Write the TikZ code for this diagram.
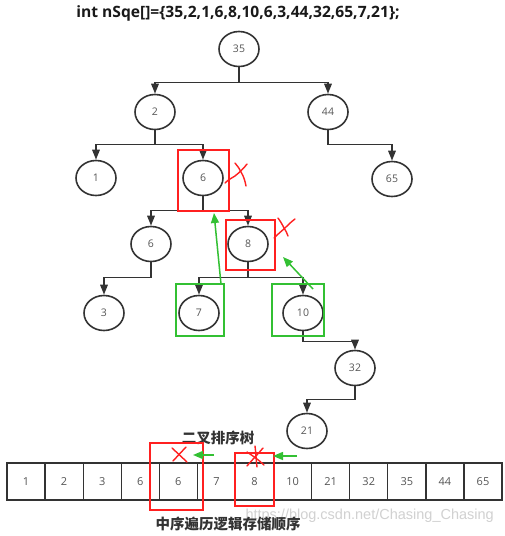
\documentclass[tikz,border=0pt]{standalone}
\usepackage{fontspec}
\setmainfont{Open Sans}
\newfontfamily\cjk{Noto Sans CJK SC}
\newfontfamily\wmfont{Liberation Sans}
\usetikzlibrary{arrows.meta,shapes.geometric}
\definecolor{ln}{HTML}{333333}
\definecolor{tx}{HTML}{555555}
\definecolor{rd}{HTML}{FF2020}
\definecolor{gn}{HTML}{33C033}
\begin{document}
\begin{tikzpicture}[x=1pt,y=-1pt,
  tn/.style={ellipse,draw=ln,line width=1.6pt,minimum width=40pt,minimum height=35pt,inner sep=0pt,font=\fontsize{10.5}{12}\selectfont,text=tx},
  edge/.style={draw=ln,line width=1.6pt,-{Triangle[width=7.5pt,length=10pt]}},
  cell/.style={rectangle,draw=ln,line width=1.3pt,minimum width=38.08pt,minimum height=37pt,inner sep=0pt,font=\fontsize{11}{13}\selectfont,text=tx},
  redbox/.style={draw=rd,line width=1.4pt},
  greenbox/.style={draw=gn,line width=1.4pt},
  redmark/.style={draw=rd,line width=1.4pt,line cap=round},
  garrow/.style={draw=gn,line width=1.5pt,-{Triangle[width=8pt,length=10pt]}},
  cjklabel/.style={font=\cjk\bfseries\fontsize{14.5}{16}\selectfont,text=ln}
]
\useasboundingbox (0,0) rectangle (504,536);
\fill[white] (0,0) rectangle (504,536);

% title
\node[font=\bfseries\fontsize{15.6}{17}\selectfont,text=black!90] (title) at (238,13) {int nSqe[]=\{35,2,1,6,8,10,6,3,44,32,65,7,21\};};

% tree nodes
\node[tn] (n35) at (239,49) {35};
\node[tn] (n2) at (155,112) {2};
\node[tn] (n44) at (328,112) {44};
\node[tn] (n1) at (96,178) {1};
\node[tn] (n6a) at (203,178) {6};
\node[tn] (n65) at (392,179) {65};
\node[tn] (n6b) at (151,244) {6};
\node[tn] (n8) at (248,244) {8};
\node[tn] (n3) at (104,313) {3};
\node[tn] (n7) at (199,313) {7};
\node[tn] (n10) at (303,313) {10};
\node[tn] (n32) at (355,368) {32};
\node[tn] (n21) at (307,431) {21};

% edges
\draw[edge] (n35.south) -- ++(0,15) -| (n2.north);
\draw[edge] (n35.south) -- ++(0,15) -| (n44.north);
\draw[edge] (n2.south) -- ++(0,14) -| (n1.north);
\draw[edge] (n2.south) -- ++(0,14) -| (n6a.north);
\draw[edge] (n44.south) -- ++(0,14) -| (n65.north);
\draw[edge] (n6a.south) -- ++(0,14) -| (n6b.north);
\draw[edge] (n6a.south) -- ++(0,14) -| (n8.north);
\draw[edge] (n6b.south) -- ++(0,15) -| (n3.north);
\draw[edge] (n8.south) -- ++(0,15) -| (n7.north);
\draw[edge] (n8.south) -- ++(0,15) -| (n10.north);
\draw[edge] (n10.south) -- ++(0,10) -| (n32.north);
\draw[edge] (n32.south) -- ++(0,13) -| (n21.north);

% red / green boxes in tree
\draw[redbox] (178,150) rectangle (229,211);
\draw[redbox] (226,220) rectangle (275,270);
\draw[greenbox] (176,284) rectangle (224,336);
\draw[greenbox] (272,284) rectangle (324,336);

% red marks in tree
\draw[redmark] (225,183) .. controls (229,179) and (232,178) .. (235,176) .. controls (240,172) and (244,168) .. (247,164);
\draw[redmark] (235,163) .. controls (238,167) and (240,169) .. (241,172) .. controls (244,177) and (245,181) .. (246,186);
\draw[redmark] (274,238) .. controls (279,233) and (283,230) .. (286,227) .. controls (289,224) and (291,222) .. (295,219);
\draw[redmark] (278,218) .. controls (281,222) and (283,226) .. (284,228) .. controls (286,231) and (287,233) .. (288,236);

% green arrows in tree
\coordinate (g1s) at (221,284);
\coordinate (g1e) at (214,213);
\coordinate (g2s) at (313,289);
\coordinate (g2e) at (283,257);
\draw[garrow] (g1s) -- (g1e);
\draw[garrow] (g2s) -- (g2e);

% label
\node[cjklabel] (lab1) at (218,438) {二叉排序树};

% array
\foreach \v [count=\i] in {1,2,3,6,6,7,8,10,21,32,35,44,65} {
  \node[cell] (c\i) at ({7+38.08*(\i-0.5)},481.5) {\v};
}

% red boxes / marks on array
\draw[redbox] (150,443) rectangle (203,510);
\draw[redbox] (235,453) rectangle (274,506);
\draw[redmark] (172,448) -- (187,462);
\draw[redmark] (186,447) -- (173,461);
\draw[redmark] (247,452) .. controls (253,456) and (259,460) .. (264,465);
\draw[redmark] (263,448) .. controls (258,454) and (252,460) .. (247,466);
\draw[redmark] (255,446) .. controls (256,453) and (256,460) .. (257,467);

% green arrows on array
\coordinate (g3s) at (214,455);
\coordinate (g3e) at (193,455);
\coordinate (g4s) at (297,456);
\coordinate (g4e) at (273,456);
\draw[garrow] (g3s) -- (g3e);
\draw[garrow] (g4s) -- (g4e);

% watermark
\node[font=\wmfont\fontsize{14.5}{16}\selectfont,text=black!18,anchor=east,inner sep=0pt] (wm) at (494,516) {https://blog.csdn.net/Chasing\_Chasing};

% bottom label
\node[cjklabel] (lab2) at (228,524) {中序遍历逻辑存储顺序};
\end{tikzpicture}
\end{document}
